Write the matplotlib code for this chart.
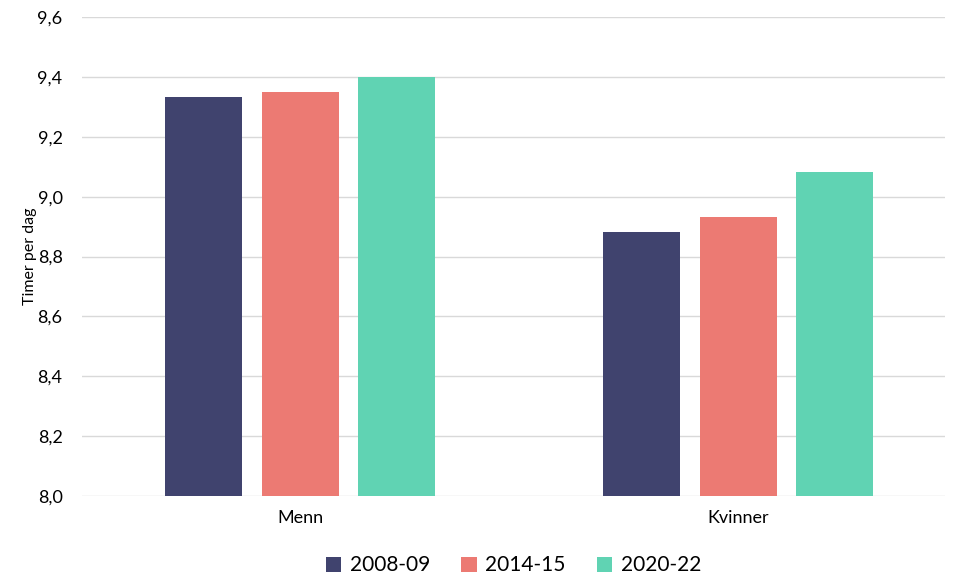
import matplotlib
matplotlib.use("Agg")
import matplotlib.pyplot as plt
import numpy as np

plt.rcParams["font.family"] = ["Lato", "DejaVu Sans"]

kategorier = ["Menn", "Kvinner"]
perioder = ["2008-09", "2014-15", "2020-22"]
v_2008 = [9.333, 8.882]
v_2014 = [9.350, 8.933]
v_2020 = [9.400, 9.083]
serier = [v_2008, v_2014, v_2020]
farger = ["#40436E", "#EC7A73", "#60D3B3"]

fig = plt.figure(figsize=(9.7, 5.87), dpi=100)
ax = fig.add_axes([0.0845, 0.155, 0.8895, 0.816])

x = np.arange(len(kategorier))
w = 0.176
step = 0.221
for i, (vals, farge, lab) in enumerate(zip(serier, farger, perioder)):
    ax.bar(x + (i - 1) * step, vals, w, color=farge, label=lab, zorder=2)

ax.set_ylim(8.0, 9.6)
ax.set_xlim(-0.498, 1.472)
ticks = np.arange(8.0, 9.61, 0.2)
ax.set_yticks(ticks)
ax.set_yticklabels([f"{t:.1f}".replace(".", ",") for t in ticks], fontsize=13)
ax.set_xticks(x)
ax.set_xticklabels(kategorier, fontsize=13)
ax.tick_params(length=0, pad=10)
ax.tick_params(axis="y", pad=14)
ax.grid(axis="y", color="#D9D9D9", linewidth=1, zorder=0)
for s in ax.spines.values():
    s.set_visible(False)
ax.set_ylabel("Timer per dag", fontsize=11.5, labelpad=0)

ax.legend(loc="upper center", bbox_to_anchor=(0.5, -0.085), ncol=3, frameon=False,
          fontsize=15, handlelength=0.75, handleheight=0.75, handletextpad=0.4,
          columnspacing=1.5)

fig.savefig("out.png", dpi=100)
